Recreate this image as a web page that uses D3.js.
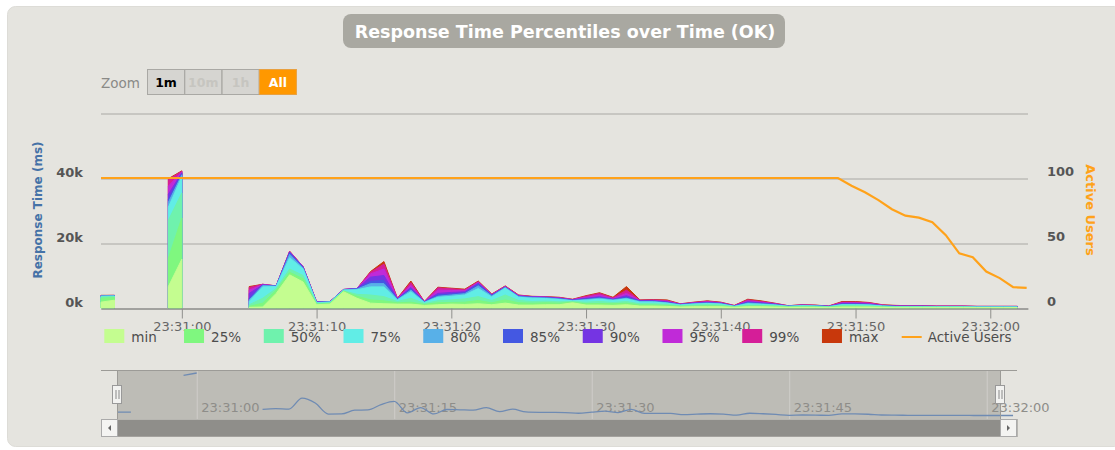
<!DOCTYPE html>
<html>
<head>
<meta charset="utf-8">
<script src="https://cdn.jsdelivr.net/npm/d3@7"></script>
<style>
  body { margin: 0; background: #fff; }
  text { font-family: "DejaVu Sans", Verdana, sans-serif; }
</style>
</head>
<body>
<div id="chart"></div>
<script>
// seconds relative to 23:31:00, one point per second
var seconds = [-6,-5,-4,-3,-2,-1,0,1,2,3,4,
  5,6,7,8,9,10,11,12,13,14,
  15,16,17,18,19,20,21,22,23,24,
  25,26,27,28,29,30,31,32,33,34,
  35,36,37,38,39,40,41,42,43,44,
  45,46,47,48,49,50,51,52,53,54,
  55,56,57,58,59,60,61,62];

// response time percentiles (ms), null = no request that second
var pMin = [1800,2400,null,null,null,6600,15000,null,null,null,null,
  200,300,4500,10200,8000,1000,1200,5000,3000,1500,
  1300,1200,1200,800,1000,1200,1100,1300,1000,1500,
  900,900,1000,1000,1600,900,900,800,1000,600,
  600,500,300,400,400,400,200,400,400,300,
  200,200,200,100,300,300,300,200,100,100,
  100,100,100,100,100,100,100,100];
var p25 = [3000,3200,null,null,null,15300,27700,null,null,null,null,
  500,1500,5500,11000,9000,1200,1400,5200,3600,2500,
  2200,1600,1800,1100,1600,1700,1800,2300,1600,2500,
  1600,1500,1600,1500,1800,1300,1400,1300,1500,900,
  900,800,500,600,700,600,300,600,600,500,
  300,300,300,200,500,500,400,300,200,200,
  200,200,200,200,150,150,150,150];
var p50 = [3400,3500,null,null,null,27000,35400,null,null,null,null,
  1000,3000,6000,12000,10000,1400,1600,5300,4200,4000,
  3500,2000,3000,1400,2200,2500,2800,3500,2300,4000,
  2300,2000,2100,1900,2000,1800,2000,1700,2000,1300,
  1300,1100,700,900,1000,900,400,900,800,700,
  400,500,400,300,700,700,600,400,300,300,
  300,250,250,250,200,200,200,200];
var p75 = [3600,3700,null,null,null,31000,40400,null,null,null,null,
  2000,6500,6600,15500,12000,1600,1800,5500,5600,6500,
  6500,2500,5000,1700,3300,3600,4000,6000,3400,6100,
  3300,3000,2900,2600,2200,2400,2700,2300,2800,1800,
  1800,1500,900,1200,1400,1200,500,1300,1100,900,
  500,700,600,400,1000,1000,900,600,400,400,
  400,350,350,350,300,300,300,300];
var p80 = [3700,3700,null,null,null,32500,41000,null,null,null,null,
  2500,6900,6700,16500,12300,1700,1900,5600,5800,7500,
  7500,2600,5500,1800,3600,4000,4400,6800,3700,6300,
  3500,3200,3100,2800,2300,2600,3000,2500,3000,2000,
  2000,1600,1000,1300,1500,1300,550,1500,1300,1000,
  550,750,650,450,1100,1100,1000,650,450,450,
  450,400,400,400,350,350,350,350];
var p85 = [3700,3800,null,null,null,33500,41300,null,null,null,null,
  3000,7000,6750,17000,12500,1800,1900,5600,5900,8200,
  8500,2700,5900,1850,4000,4300,4700,7300,3900,6400,
  3600,3300,3200,2900,2400,2800,3200,2600,3300,2100,
  2100,1700,1100,1400,1600,1400,600,1700,1400,1100,
  600,800,700,500,1200,1200,1100,700,500,500,
  500,450,450,450,400,400,400,400];
var p90 = [3800,3800,null,null,null,35000,41600,null,null,null,null,
  4500,7100,6800,17200,12600,1800,2000,5700,6000,9500,
  10000,2800,6300,1900,4500,4800,5000,7600,4000,6500,
  3700,3400,3300,3000,2500,3000,3500,2700,3800,2200,
  2200,1900,1100,1500,1700,1500,650,1900,1600,1200,
  600,850,750,500,1400,1400,1200,750,550,550,
  550,500,500,500,450,450,450,450];
var p95 = [3800,3800,null,null,null,37500,41900,null,null,null,null,
  5500,7200,6800,17300,12700,1900,2000,5700,6000,10500,
  12000,2900,7000,1900,5500,5400,5300,7900,4100,6600,
  3800,3500,3400,3100,2600,3300,4000,2900,4500,2300,
  2300,2100,1200,1600,1900,1600,700,2200,1800,1300,
  650,900,800,550,1600,1600,1400,850,600,600,
  600,550,550,550,500,500,500,500];
var p99 = [3800,3900,null,null,null,39500,42100,null,null,null,null,
  6300,7300,6800,17400,12700,1900,2000,5700,6000,11000,
  13500,3000,7800,2000,6200,5900,5600,8100,4200,6700,
  3900,3500,3400,3200,2600,3600,4500,3100,5500,2400,
  2500,2300,1200,1700,2100,1700,750,2500,2000,1400,
  700,950,850,600,1800,1800,1600,950,700,650,
  650,600,600,600,500,500,500,500];
var pMax = [3900,3900,null,null,null,39800,42200,null,null,null,null,
  6600,7300,6800,17500,12700,1900,2000,5700,6000,11200,
  14300,3000,8300,2000,6400,6100,5800,8300,4300,6800,
  4000,3600,3500,3300,2700,3800,4700,3300,6600,2500,
  2600,2500,1300,1800,2200,1800,800,2700,2200,1500,
  700,1000,900,600,2000,2000,1700,1000,800,700,
  700,600,600,600,500,500,500,500];

var seriesNames = ["min", "25%", "50%", "75%", "80%", "85%", "90%", "95%", "99%", "max"];
var seriesColors = ["#c4fd90", "#7ff77f", "#6ff2ad", "#61ede6", "#58b0e8",
                    "#4458e2", "#7534e3", "#c02ad8", "#d51e98", "#c8380c"];
var seriesValues = [pMin, p25, p50, p75, p80, p85, p90, p95, p99, pMax];

// active users (right axis)
var userSeconds = [-6,48.7,49.7,50.7,51.7,52.7,53.7,54.7,55.7,56.7,57.7,58.7,59.7,60.7,61.7,62.7];
var activeUsers = [100,100,94,89,83,76,71,69.5,66,56,42,39,28,23,16,15.5];

var leftTicks = [0, 20000, 40000, 60000];
var rightTicks = [0, 50, 100];
var zoomButtons = ["1m", "10m", "1h", "All"];

var W = 1115, H = 450;
var plot = {left: 101, right: 1028, top: 113, bottom: 308};
var base = new Date(2020, 0, 1, 23, 31, 0);
function toDate(s) { return new Date(base.getTime() + s * 1000); }

var svg = d3.select("#chart").append("svg")
  .attr("width", W).attr("height", H);

// card background
svg.append("rect")
  .attr("x", 7.5).attr("y", 6.5).attr("width", W).attr("height", 440)
  .attr("rx", 8).attr("fill", "#e5e4df").attr("stroke", "#dddcd7");

// title pill
svg.append("rect")
  .attr("x", 343).attr("y", 14).attr("width", 442).attr("height", 34)
  .attr("rx", 8).attr("fill", "#a9a8a1");
svg.append("text")
  .attr("x", 565).attr("y", 37.5).attr("text-anchor", "middle")
  .attr("fill", "#fff").attr("font-weight", "bold").attr("font-size", "17.5px")
  .text("Response Time Percentiles over Time (OK)");

// range selector
svg.append("text").attr("x", 101).attr("y", 88)
  .attr("fill", "#8a8a87").attr("font-size", "13.5px").text("Zoom");
var btn = svg.selectAll(".btn").data(zoomButtons).enter().append("g")
  .attr("transform", function(d, i) { return "translate(" + (147.5 + i * 37.3) + ",69.5)"; });
btn.append("rect").attr("width", 37).attr("height", 25)
  .attr("fill", function(d) { return d == "All" ? "#ff9800" : "#d6d5d1"; })
  .attr("stroke", function(d) { return d == "All" ? "#e8a040" : "#a9a8a4"; });
btn.append("text").attr("x", 18.5).attr("y", 17).attr("text-anchor", "middle")
  .attr("font-size", "12.5px").attr("font-weight", "bold")
  .attr("fill", function(d) { return d == "All" ? "#fff" : d == "1m" ? "#000" : "#c6c5c0"; })
  .text(function(d) { return d; });

// scales
var x = d3.scaleTime()
  .domain([toDate(-6), toDate(62.8)])
  .range([plot.left, plot.right]);
var yL = d3.scaleLinear().domain([0, 60000]).range([plot.bottom, plot.top]);
var yR = d3.scaleLinear().domain([0, 150]).range([plot.bottom, plot.top]);

// gridlines + left labels
var gl = svg.append("g").attr("transform", "translate(" + plot.left + ",0.5)")
  .call(d3.axisLeft(yL).tickValues(leftTicks)
    .tickSize(-(plot.right - plot.left))
    .tickFormat(function(d) { return d == 60000 ? "" : (d / 1000) + "k"; }));
gl.select(".domain").remove();
gl.selectAll(".tick line").attr("stroke", "#a9a8a4");
gl.selectAll(".tick text").attr("x", -18).attr("y", -6)
  .attr("fill", "#555").attr("font-size", "13px").attr("font-weight", "bold")
  .style("font-family", "DejaVu Sans");

var gr = svg.append("g").attr("transform", "translate(" + plot.right + ",0)")
  .call(d3.axisRight(yR).tickValues(rightTicks).tickSize(0));
gr.select(".domain").remove();
gr.selectAll(".tick text").attr("x", 19).attr("y", -7)
  .attr("fill", "#555").attr("font-size", "13px").attr("font-weight", "bold")
  .style("font-family", "DejaVu Sans");

// axis titles
svg.append("text")
  .attr("transform", "translate(42,210) rotate(-90)").attr("text-anchor", "middle")
  .attr("fill", "#4572a7").attr("font-size", "12px").attr("font-weight", "bold")
  .text("Response Time (ms)");
svg.append("text")
  .attr("transform", "translate(1086,210) rotate(90)").attr("text-anchor", "middle")
  .attr("fill", "#ffa21a").attr("font-size", "13px").attr("font-weight", "bold")
  .text("Active Users");

// percentile areas, max at the back
var area = d3.area()
  .defined(function(d) { return d.v != null; })
  .x(function(d) { return x(toDate(d.s)); })
  .y0(yL(0))
  .y1(function(d) { return yL(d.v); });

for (var k = seriesValues.length - 1; k >= 0; k--) {
  var pts = seconds.map(function(s, i) { return {s: s, v: seriesValues[k][i]}; });
  svg.append("path").datum(pts)
    .attr("d", area)
    .attr("fill", seriesColors[k])
    .attr("stroke", seriesColors[k]).attr("stroke-width", 1)
    .attr("stroke-linejoin", "round");
}

// x axis
var gx = svg.append("g").attr("transform", "translate(0," + (plot.bottom + 0.5) + ")")
  .call(d3.axisBottom(x).ticks(d3.timeSecond.every(10))
    .tickFormat(d3.timeFormat("%H:%M:%S")).tickSize(10).tickSizeOuter(0));
gx.select(".domain").attr("stroke", "#7d7d7d");
gx.selectAll(".tick line").attr("stroke", "#8f8f8c");
gx.selectAll(".tick text").attr("fill", "#666").attr("font-size", "13px")
  .style("font-family", "DejaVu Sans");

// active users line
var userLine = d3.line()
  .x(function(d, i) { return x(toDate(userSeconds[i])); })
  .y(function(d) { return yR(d); });
svg.append("path").datum(activeUsers)
  .attr("d", userLine)
  .attr("fill", "none").attr("stroke", "#ffa21a").attr("stroke-width", 2.2);

// legend
var legendNames = seriesNames.concat(["Active Users"]);
var lg = svg.selectAll(".lg").data(legendNames).enter().append("g")
  .attr("transform", function(d, i) { return "translate(" + (104.3 + i * 79.74) + ",0)"; });
lg.each(function(d, i) {
  var g = d3.select(this);
  if (i < seriesColors.length) {
    g.append("rect").attr("y", 329).attr("width", 20).attr("height", 14)
      .attr("fill", seriesColors[i]);
  } else {
    g.append("line").attr("x1", 0).attr("x2", 20).attr("y1", 337).attr("y2", 337)
      .attr("stroke", "#ffa21a").attr("stroke-width", 2);
  }
  g.append("text").attr("x", i < seriesColors.length ? 27 : 26).attr("y", 342)
    .attr("fill", "#4d4d4d").attr("font-size", "13.5px").text(d);
});

// navigator
var nav = {left: 101, right: 1017, top: 370, bottom: 419, selL: 117, selR: 1000};
var xn = d3.scaleTime().domain([toDate(-7.27), toDate(62.3)]).range([nav.left, nav.right]);
var yn = d3.scaleLinear().domain([0, 42200]).range([416, 373]);

svg.append("rect").attr("x", nav.selL).attr("y", nav.top)
  .attr("width", nav.selR - nav.selL).attr("height", nav.bottom - nav.top)
  .attr("fill", "#bdbcb6");
var gn = svg.append("g").attr("transform", "translate(0," + nav.top + ")")
  .call(d3.axisBottom(xn).ticks(d3.timeSecond.every(15))
    .tickFormat(d3.timeFormat("%H:%M:%S")).tickSize(nav.bottom - nav.top));
gn.select(".domain").remove();
gn.selectAll(".tick line").attr("stroke", "#cfcec9").attr("stroke-width", 1);
gn.selectAll(".tick text").attr("text-anchor", "start").attr("x", 4).attr("y", 33)
  .attr("fill", "#8e8d89").attr("font-size", "13px").style("font-family", "DejaVu Sans");
svg.append("line").attr("x1", nav.left).attr("x2", nav.right)
  .attr("y1", nav.top + 0.5).attr("y2", nav.top + 0.5).attr("stroke", "#9c9b97");

var navLine = d3.line()
  .defined(function(d) { return d != null; })
  .x(function(d, i) { return xn(toDate(seconds[i])); })
  .y(function(d) { return yn(d); })
  .curve(d3.curveMonotoneX);
svg.append("path").datum(pMax).attr("d", navLine)
  .attr("fill", "none").attr("stroke", "#6f8bb3").attr("stroke-width", 1.3);

// selection edges + handles
[nav.selL, nav.selR].forEach(function(hx) {
  svg.append("line").attr("x1", hx + 0.5).attr("x2", hx + 0.5)
    .attr("y1", nav.top).attr("y2", nav.bottom).attr("stroke", "#9c9b97");
  svg.append("rect").attr("x", hx - 4.5).attr("y", 385.5).attr("width", 9).attr("height", 18)
    .attr("fill", "#f2f2f0").attr("stroke", "#999");
  svg.append("line").attr("x1", hx - 1).attr("x2", hx - 1).attr("y1", 390).attr("y2", 399)
    .attr("stroke", "#888");
  svg.append("line").attr("x1", hx + 2).attr("x2", hx + 2).attr("y1", 390).attr("y2", 399)
    .attr("stroke", "#888");
});

// scrollbar
svg.append("rect").attr("x", nav.left + 0.5).attr("y", 419.5)
  .attr("width", nav.right - nav.left).attr("height", 17)
  .attr("fill", "#e5e4df").attr("stroke", "#b8b7b2");
svg.append("rect").attr("x", nav.selL).attr("y", 420)
  .attr("width", nav.selR - nav.selL).attr("height", 16.5).attr("fill", "#8f8e8a");
[[nav.left, "l"], [nav.selR, "r"]].forEach(function(b) {
  var bx = b[0];
  svg.append("rect").attr("x", bx + 0.5).attr("y", 419.5).attr("width", 16).attr("height", 17)
    .attr("fill", "#f4f4f2").attr("stroke", "#aaa");
  var cx = bx + 8.5, cy = 428;
  var tri = b[1] == "l"
    ? [[cx + 1.5, cy - 3], [cx + 1.5, cy + 3], [cx - 1.5, cy]]
    : [[cx - 1.5, cy - 3], [cx - 1.5, cy + 3], [cx + 1.5, cy]];
  svg.append("path").attr("d", d3.line()(tri) + "Z").attr("fill", "#666");
});
</script>
</body>
</html>
